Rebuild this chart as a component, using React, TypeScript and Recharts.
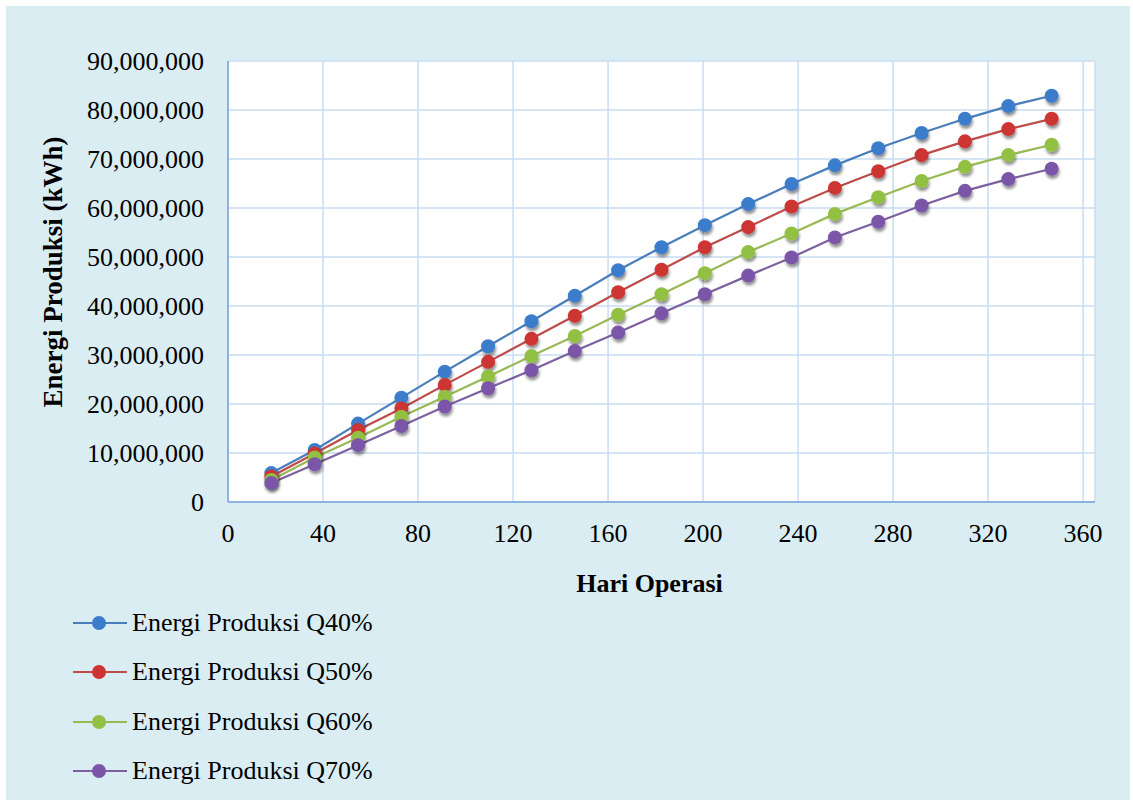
import React from 'react';
import { LineChart, Line, XAxis, YAxis, CartesianGrid, Legend } from 'recharts';

const days = [18.25, 36.5, 54.75, 73, 91.25, 109.5, 127.75, 146, 164.25, 182.5, 200.75, 219, 237.25, 255.5, 273.75, 292, 310.25, 328.5, 346.75];
const q40 = [5.9, 10.6, 16.0, 21.3, 26.6, 31.8, 36.9, 42.1, 47.3, 52.0, 56.5, 60.8, 64.9, 68.7, 72.2, 75.3, 78.2, 80.8, 82.9];
const q50 = [5.2, 9.9, 14.7, 19.1, 23.9, 28.6, 33.3, 38.0, 42.8, 47.4, 52.0, 56.1, 60.3, 64.1, 67.5, 70.8, 73.6, 76.1, 78.2];
const q60 = [4.5, 9.1, 13.1, 17.4, 21.5, 25.6, 29.8, 33.9, 38.2, 42.4, 46.7, 51.0, 54.8, 58.8, 62.2, 65.5, 68.4, 70.8, 72.9];
const q70 = [3.9, 7.7, 11.6, 15.5, 19.5, 23.2, 26.9, 30.8, 34.6, 38.5, 42.4, 46.2, 49.9, 54.0, 57.2, 60.5, 63.5, 65.9, 68.0];
const xTicks = [0, 40, 80, 120, 160, 200, 240, 280, 320, 360];
const yTicks = [0, 10000000, 20000000, 30000000, 40000000, 50000000, 60000000, 70000000, 80000000, 90000000];

const seriesNames = ['Energi Produksi Q40%', 'Energi Produksi Q50%', 'Energi Produksi Q60%', 'Energi Produksi Q70%'];
const seriesKeys = ['q40', 'q50', 'q60', 'q70'];
const lineColors = ['#4a7ebb', '#be4b48', '#98b954', '#7d60a0'];
const dotColors = ['#3b7dcb', '#cc3431', '#92c043', '#7a55a8'];

const data = days.map((d, i) => ({
  x: d,
  q40: q40[i] * 1000000,
  q50: q50[i] * 1000000,
  q60: q60[i] * 1000000,
  q70: q70[i] * 1000000,
}));

const FONT = '"Liberation Serif", "Times New Roman", serif';

const makeDot = (color: string) => (props: any) => {
  const { cx, cy, index } = props;
  if (cx == null || cy == null) return <g key={index} />;
  return (
    <circle key={index} cx={cx} cy={cy} r={7} fill={color} filter="url(#dotShadow)" />
  );
};

const LegendContent = () => (
  <div style={{ fontFamily: FONT, fontSize: 26, color: '#000' }}>
    {seriesNames.map((n, i) => (
      <div key={n} style={{ display: 'flex', alignItems: 'center', height: 49.5 }}>
        <svg width={59} height={20} style={{ overflow: 'visible' }}>
          <line x1={0} y1={10} x2={54} y2={10} stroke={lineColors[i]} strokeWidth={2} />
          <circle cx={26} cy={10} r={7} fill={dotColors[i]} />
        </svg>
        <span style={{ lineHeight: '26px' }}>{n}</span>
      </div>
    ))}
  </div>
);

export default function App() {
  return (
    <div style={{ position: 'absolute', left: 0, top: 0, width: 1133, height: 803, background: '#ffffff' }}>
      <svg width={0} height={0} style={{ position: 'absolute' }}>
        <defs>
          <filter id="dotShadow" x="-50%" y="-50%" width="200%" height="200%">
            <feGaussianBlur in="SourceAlpha" stdDeviation="1.6" />
            <feOffset dx="1" dy="2.5" result="off" />
            <feComponentTransfer>
              <feFuncA type="linear" slope="0.45" />
            </feComponentTransfer>
            <feMerge>
              <feMergeNode />
              <feMergeNode in="SourceGraphic" />
            </feMerge>
          </filter>
        </defs>
      </svg>
      <div style={{ position: 'absolute', left: 6, top: 6, width: 1124, height: 794, background: '#daedf3' }} />
      <div style={{ position: 'absolute', left: 0, top: 0 }}>
        <LineChart
          width={1133}
          height={803}
          data={data}
          margin={{ top: 61, right: 38, left: 28, bottom: 261 }}
        >
          <CartesianGrid stroke="#c9dcf2" strokeWidth={1.5} fill="#ffffff" fillOpacity={1} />
          <XAxis
            type="number"
            dataKey="x"
            domain={[0, 365]}
            ticks={xTicks}
            allowDataOverflow
            height={40}
            tickSize={0}
            tickMargin={22}
            axisLine={{ stroke: '#8db3e2', strokeWidth: 2 }}
            tick={{ fontFamily: FONT, fontSize: 26, fill: '#000' }}
            label={{
              content: () => (
                <text x={649.5} y={592} textAnchor="middle" fontFamily={FONT} fontSize={26} fontWeight="bold" fill="#000">
                  Hari Operasi
                </text>
              ),
            }}
          />
          <YAxis
            type="number"
            domain={[0, 90000000]}
            ticks={yTicks}
            width={200}
            tickSize={0}
            tickMargin={24}
            axisLine={{ stroke: '#8db3e2', strokeWidth: 2 }}
            tick={{ fontFamily: FONT, fontSize: 26, fill: '#000' }}
            tickFormatter={(v: number) => v.toLocaleString('en-US')}
            label={{
              content: () => (
                <text
                  x={62}
                  y={272}
                  transform="rotate(-90, 62, 272)"
                  textAnchor="middle"
                  fontFamily={FONT}
                  fontSize={27}
                  fontWeight="bold"
                  fill="#000"
                >
                  Energi Produksi (kWh)
                </text>
              ),
            }}
          />
          {seriesKeys.map((k, i) => (
            <Line
              key={k}
              type="linear"
              dataKey={k}
              name={seriesNames[i]}
              stroke={lineColors[i]}
              strokeWidth={2.2}
              dot={makeDot(dotColors[i])}
              activeDot={false}
              isAnimationActive={false}
            />
          ))}
          <Legend
            layout="vertical"
            align="center"
            verticalAlign="middle"
            content={() => <LegendContent />}
            wrapperStyle={{ position: 'absolute', left: 73, top: 598, width: 400, height: 200 }}
          />
        </LineChart>
      </div>
    </div>
  );
}
